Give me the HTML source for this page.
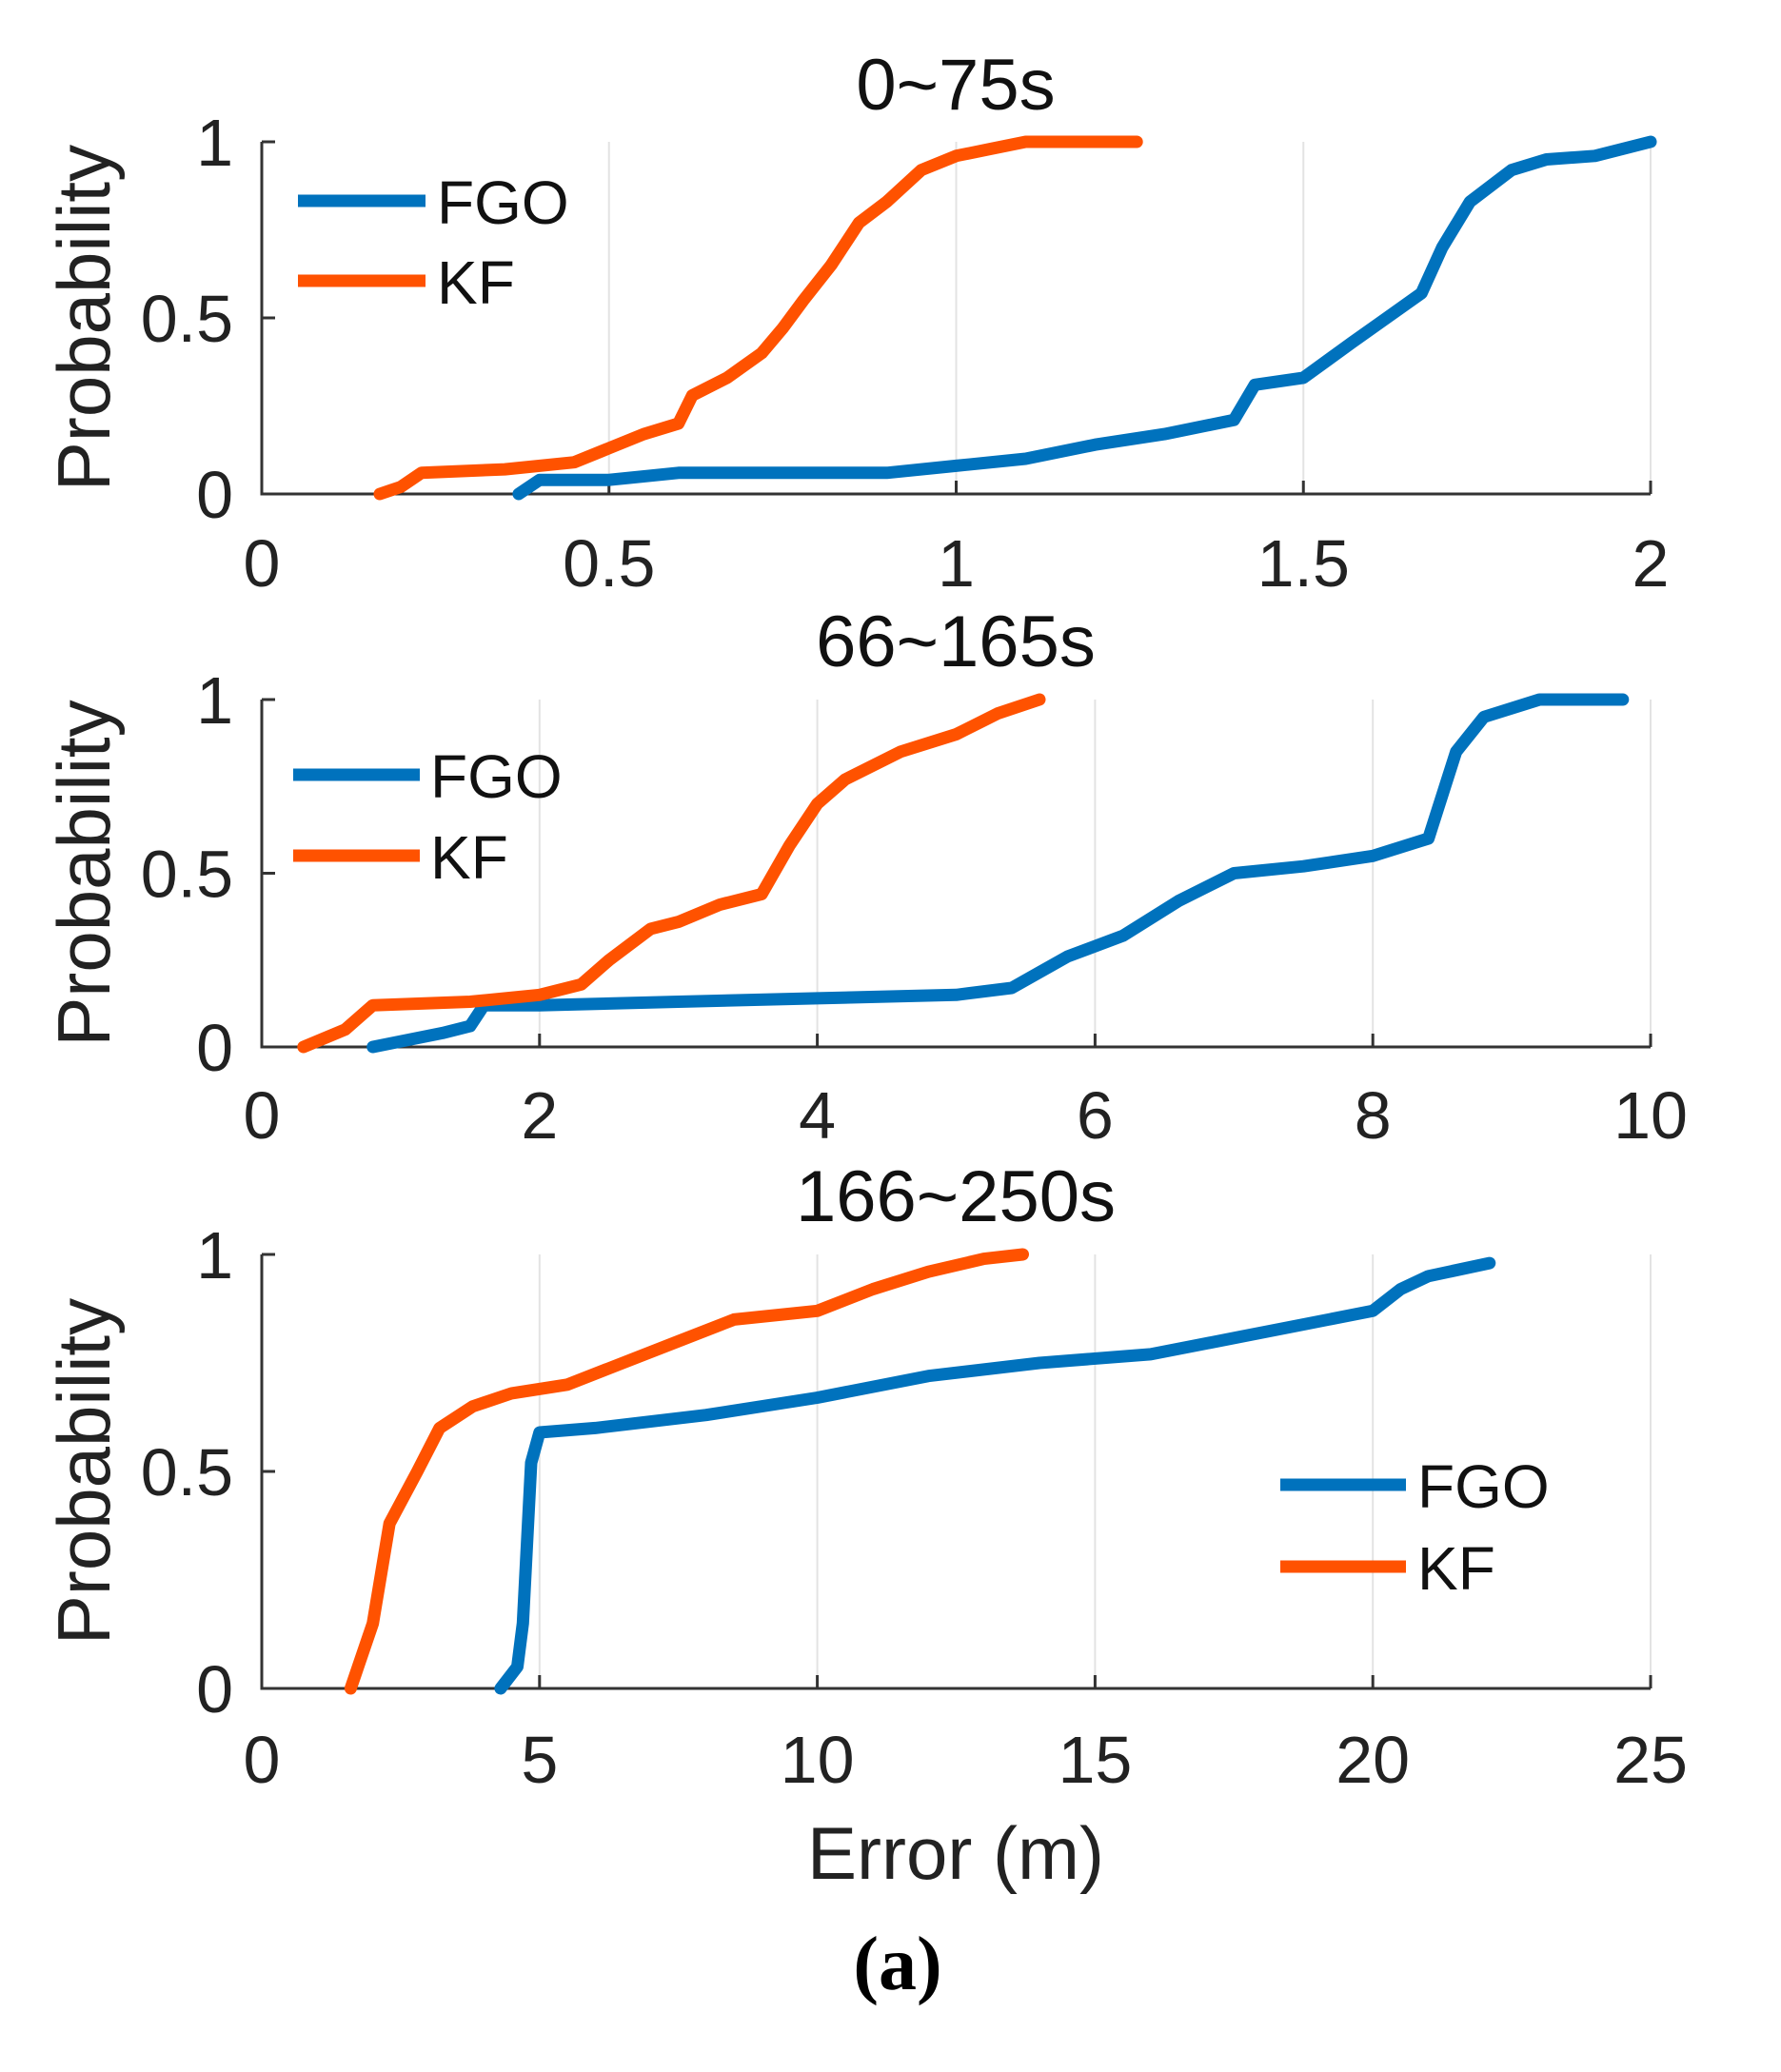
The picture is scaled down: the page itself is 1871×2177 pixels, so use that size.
<!DOCTYPE html>
<html><head><meta charset="utf-8">
<style>
html,body{margin:0;padding:0;background:#fff;}
svg{display:block;font-family:"Liberation Sans",Arial,sans-serif;}
</style></head>
<body>
<svg id="fig" width="1871" height="2177" viewBox="0 0 1871 2177" xmlns="http://www.w3.org/2000/svg">
<text x="1004" y="1974" font-size="78" text-anchor="middle" fill="#222">Error (m)</text>
<text x="943" y="2090" font-size="80" font-weight="bold" text-anchor="middle" font-family="'Liberation Serif',serif" fill="#000">(a)</text>
</svg>
<script>
// Panel 1: 0~75s
const p1Title = "0~75s";
const p1XTicks = [0, 0.5, 1, 1.5, 2];
const p1XTickLabels = ["0", "0.5", "1", "1.5", "2"];
const p1FgoX = [0.37,0.40,0.50,0.60,0.90,1.00,1.10,1.20,1.30,1.40,1.43,1.50,1.57,1.62,1.67,1.70,1.74,1.80,1.85,1.92,2.00];
const p1FgoY = [0,0.04,0.04,0.06,0.06,0.08,0.10,0.14,0.17,0.21,0.31,0.33,0.43,0.50,0.57,0.70,0.83,0.92,0.95,0.96,1.00];
const p1KfX = [0.17,0.20,0.23,0.35,0.45,0.50,0.55,0.60,0.62,0.67,0.72,0.75,0.78,0.82,0.86,0.90,0.95,1.00,1.05,1.10,1.26];
const p1KfY = [0,0.02,0.06,0.07,0.09,0.13,0.17,0.20,0.28,0.33,0.40,0.47,0.55,0.65,0.77,0.83,0.92,0.96,0.98,1.00,1.00];
// Panel 2: 66~165s
const p2Title = "66~165s";
const p2XTicks = [0, 2, 4, 6, 8, 10];
const p2XTickLabels = ["0", "2", "4", "6", "8", "10"];
const p2FgoX = [0.8,1.3,1.5,1.6,2.0,3.0,4.0,5.0,5.4,5.8,6.2,6.6,7.0,7.5,8.0,8.4,8.6,8.8,9.2,9.8];
const p2FgoY = [0,0.04,0.06,0.12,0.12,0.13,0.14,0.15,0.17,0.26,0.32,0.42,0.50,0.52,0.55,0.60,0.85,0.95,1.00,1.00];
const p2KfX = [0.3,0.6,0.8,1.5,2.0,2.3,2.5,2.8,3.0,3.3,3.6,3.8,4.0,4.2,4.6,5.0,5.3,5.6];
const p2KfY = [0,0.05,0.12,0.13,0.15,0.18,0.25,0.34,0.36,0.41,0.44,0.58,0.70,0.77,0.85,0.90,0.96,1.00];
// Panel 3: 166~250s
const p3Title = "166~250s";
const p3XTicks = [0, 5, 10, 15, 20, 25];
const p3XTickLabels = ["0", "5", "10", "15", "20", "25"];
const p3FgoX = [4.3,4.6,4.7,4.85,5.0,6,8,10,12,14,16,18,20,20.5,21,22.1];
const p3FgoY = [0,0.05,0.15,0.52,0.59,0.60,0.63,0.67,0.72,0.75,0.77,0.82,0.87,0.92,0.95,0.98];
const p3KfX = [1.6,2.0,2.3,2.8,3.2,3.8,4.5,5.5,6.5,7.5,8.5,10,11,12,13,13.7];
const p3KfY = [0,0.15,0.38,0.50,0.60,0.65,0.68,0.70,0.75,0.80,0.85,0.87,0.92,0.96,0.99,1.00];
const yTicks = [0, 0.5, 1];
const yTickLabels = ["0", "0.5", "1"];
const seriesNames = ["FGO", "KF"];

const NS = "http://www.w3.org/2000/svg";
const svg = document.getElementById("fig");
const BLUE = "#0072BD", ORANGE = "#FF5200";
function mk(tag, attrs, parent) {
  const e = document.createElementNS(NS, tag);
  for (const k in attrs) e.setAttribute(k, attrs[k]);
  (parent || svg).appendChild(e);
  return e;
}
function panel(id, cfg) {
  const L = 275, R = 1734, T = cfg.top, B = cfg.bottom;
  const xmax = cfg.xTicks[cfg.xTicks.length - 1];
  const sx = v => L + (R - L) * v / xmax;
  const sy = v => B - (B - T) * v;
  const g = mk("g", {});
  
  
  cfg.xTicks.forEach((t, i) => {
    if (i === 0) return;
    const gl = mk("line", {x1: sx(t), x2: sx(t), y1: T, y2: B, stroke: "#e3e3e3", "stroke-width": 2}, g);
    
    
  });
  const ax = mk("path", {d: `M${L},${T} L${L},${B} L${R},${B}`, fill: "none", stroke: "#333", "stroke-width": 3}, g);
  
  
  yTicks.forEach((t, i) => {
    mk("line", {x1: L, x2: L + 14, y1: sy(t), y2: sy(t), stroke: "#333", "stroke-width": 3}, g);
    const tl = mk("text", {x: 245, y: sy(t) + 25, "font-size": 70, "text-anchor": "end", fill: "#222"}, g);
    tl.textContent = yTickLabels[i];
    
    
  });
  cfg.xTicks.forEach((t, i) => {
    mk("line", {x1: sx(t), x2: sx(t), y1: B, y2: B - 14, stroke: "#333", "stroke-width": 3}, g);
    const tl = mk("text", {x: sx(t), y: cfg.tickBase, "font-size": 70, "text-anchor": "middle", fill: "#222"}, g);
    tl.textContent = cfg.xTickLabels[i];
    
    
  });
  const ti = mk("text", {x: 1004, y: cfg.titleBase, "font-size": 76, "text-anchor": "middle", fill: "#111"}, g);
  ti.textContent = cfg.title;
  
  
  const cy = (T + B) / 2;
  const yl = mk("text", {x: 115, y: cy, "font-size": 78, "text-anchor": "middle", fill: "#222", transform: `rotate(-90 115 ${cy})`}, g);
  yl.textContent = "Probability";
  
  
  const series = [[cfg.fgoX, cfg.fgoY, BLUE, "fgo-line"], [cfg.kfX, cfg.kfY, ORANGE, "kf-line"]];
  series.forEach(s => {
    let d = "";
    s[0].forEach((x, i) => { d += (i ? " L" : "M") + sx(x).toFixed(1) + "," + sy(s[1][i]).toFixed(1); });
    const p = mk("path", {d: d, fill: "none", stroke: s[2], "stroke-width": 13, "stroke-linejoin": "round", "stroke-linecap": "round"}, g);
    
    
  });
  const lg = cfg.legend;
  [BLUE, ORANGE].forEach((c, i) => {
    const y = lg.y[i];
    const ll = mk("line", {x1: lg.x1, x2: lg.x2, y1: y, y2: y, stroke: c, "stroke-width": 13}, g);
    
    
    const lt = mk("text", {x: lg.tx, y: y + 24, "font-size": 64, fill: "#111"}, g);
    lt.textContent = seriesNames[i];
    
    
  });
}
panel("panel-0-75s", {top: 149, bottom: 519, title: p1Title, titleBase: 115, tickBase: 616,
  xTicks: p1XTicks, xTickLabels: p1XTickLabels, fgoX: p1FgoX, fgoY: p1FgoY, kfX: p1KfX, kfY: p1KfY,
  legend: {x1: 313, x2: 447, tx: 459, y: [211, 295]}});
panel("panel-66-165s", {top: 735, bottom: 1100, title: p2Title, titleBase: 700, tickBase: 1196,
  xTicks: p2XTicks, xTickLabels: p2XTickLabels, fgoX: p2FgoX, fgoY: p2FgoY, kfX: p2KfX, kfY: p2KfY,
  legend: {x1: 308, x2: 441, tx: 452, y: [814, 899]}});
panel("panel-166-250s", {top: 1318, bottom: 1774, title: p3Title, titleBase: 1283, tickBase: 1873,
  xTicks: p3XTicks, xTickLabels: p3XTickLabels, fgoX: p3FgoX, fgoY: p3FgoY, kfX: p3KfX, kfY: p3KfY,
  legend: {x1: 1345, x2: 1477, tx: 1489, y: [1560, 1646]}});
</script>
</body></html>
